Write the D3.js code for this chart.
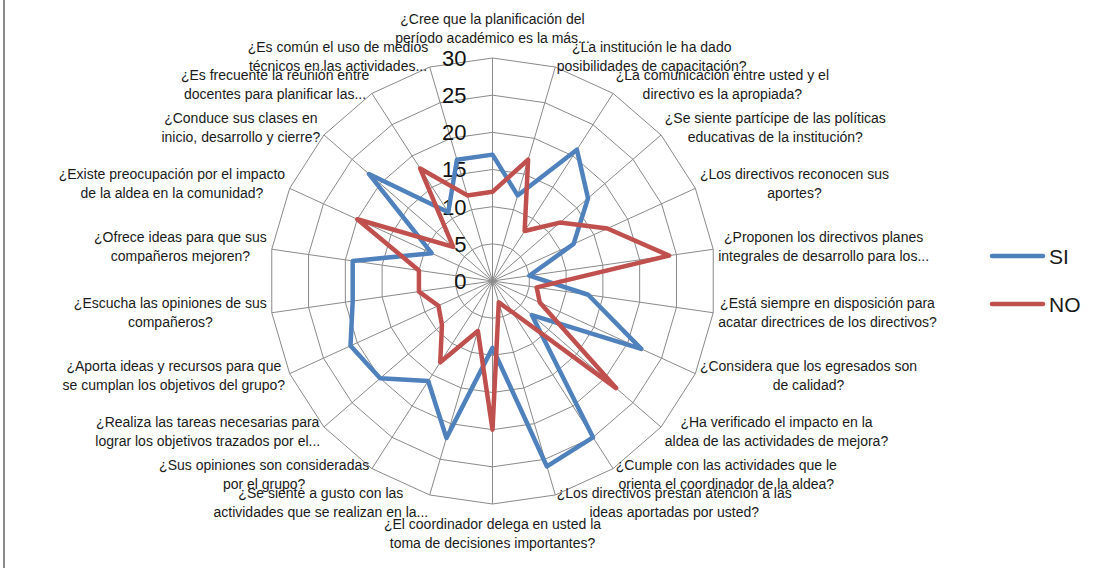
<!DOCTYPE html>
<html>
<head>
<meta charset="utf-8">
<script src="https://cdn.jsdelivr.net/npm/d3@7"></script>
<style>
  html, body { margin: 0; padding: 0; background: #ffffff; }
  svg { display: block; }
  text { font-family: "Liberation Sans", Arial, sans-serif; }
</style>
</head>
<body>
<svg id="chart" width="1108" height="568"></svg>
<script>
// ---------- DATA ----------
const categories = [
  "¿Cree que la planificación del|período académico es la más...",
  "¿La institución le ha dado|posibilidades de capacitación?",
  "¿La comunicación entre usted y el|directivo es la apropiada?",
  "¿Se siente partícipe de las políticas|educativas de la institución?",
  "¿Los directivos reconocen sus|aportes?",
  "¿Proponen los directivos planes|integrales de desarrollo para los...",
  "¿Está siempre en disposición para|acatar directrices de los directivos?",
  "¿Considera que los egresados son|de calidad?",
  "¿Ha verificado el impacto en la|aldea de las actividades de mejora?",
  "¿Cumple con las actividades que le|orienta el coordinador de la aldea?",
  "¿Los directivos prestan atención a las|ideas aportadas por usted?",
  "¿El coordinador delega en usted la|toma de decisiones importantes?",
  "¿Se siente a gusto con las|actividades que se realizan en la...",
  "¿Sus opiniones son consideradas|por el grupo?",
  "¿Realiza las tareas necesarias para|lograr los objetivos trazados por el...",
  "¿Aporta ideas y recursos para que|se cumplan los objetivos del grupo?",
  "¿Escucha las opiniones de sus|compañeros?",
  "¿Ofrece ideas para que sus|compañeros mejoren?",
  "¿Existe preocupación por el impacto|de la aldea en la comunidad?",
  "¿Conduce sus clases en|inicio, desarrollo y cierre?",
  "¿Es frecuente la reunión entre|docentes para planificar las...",
  "¿Es común el uso de medios|técnicos en las actividades..."
];
const siValues = [17, 12, 21, 17, 12, 5, 13, 22, 7, 25, 26, 9, 22, 16, 20, 21, 19, 19, 9, 22, 11, 17];
const noValues = [12, 17, 8, 12, 17, 24, 6, 7, 22, 5, 3, 20, 7, 13, 9, 8, 10, 10, 20, 7, 18, 12];
const seriesNames = ["SI", "NO"];
const tickValues = [0, 5, 10, 15, 20, 25, 30];

// ---------- LAYOUT ----------
const svg = d3.select("#chart");
const cx = 492.5, cy = 281, R = 223;
const colors = ["#4F81BD", "#C0504D"];
const n = categories.length;
const r = d3.scaleLinear().domain([0, 30]).range([0, R]);
const ang = d3.scaleLinear().domain([0, n]).range([0, 2 * Math.PI]);

// left border
svg.append("line").attr("x1", 4).attr("x2", 4).attr("y1", 0).attr("y2", 568)
  .attr("stroke", "#8c8c8c").attr("stroke-width", 2);

const g = svg.append("g").attr("transform", `translate(${cx},${cy})`);

// grid rings
const ringLine = d3.lineRadial()
  .angle((d, i) => ang(i))
  .radius(d => r(d))
  .curve(d3.curveLinearClosed);

tickValues.filter(t => t > 0).forEach(t => {
  g.append("path")
    .attr("d", ringLine(d3.range(n).map(() => t)))
    .attr("fill", "none").attr("stroke", "#8a8a8a").attr("stroke-width", 1);
});

// spokes
d3.range(n).forEach(i => {
  const a = ang(i);
  g.append("line")
    .attr("x1", 0).attr("y1", 0)
    .attr("x2", r(30) * Math.sin(a)).attr("y2", -r(30) * Math.cos(a))
    .attr("stroke", "#8a8a8a").attr("stroke-width", 1);
});

// tick labels
g.selectAll("text.tick").data(tickValues).enter().append("text")
  .attr("class", "tick")
  .attr("x", -26).attr("y", d => -r(d))
  .attr("dy", "0.36em")
  .attr("text-anchor", "end")
  .attr("font-size", 22).attr("fill", "#111")
  .text(d => d);

// series
[siValues, noValues].forEach((vals, s) => {
  g.append("path")
    .attr("d", ringLine(vals))
    .attr("fill", "none")
    .attr("stroke", colors[s])
    .attr("stroke-width", 4.5)
    .attr("stroke-linejoin", "round");
});

// category labels
const fs = 14, lh = 19;
categories.forEach((c, i) => {
  const lines = c.split("|");
  const a = ang(i);
  const s = Math.sin(a), co = Math.cos(a);
  const ex = r(30) * s, ey = -r(30) * co;
  const grp = g.append("g");
  const texts = lines.map(l => grp.append("text").attr("font-size", fs).attr("fill", "#1a1a1a").attr("text-anchor", "middle").text(l));
  const w = d3.max(texts, t => t.node().getComputedTextLength());
  const bh = lines.length * lh;
  let bx, bcy;
  if (Math.abs(s) < 0.01) {
    bx = ex;
    bcy = co > 0 ? ey - 30 : ey + 29;
  } else {
    const ax = (r(30) + 5) * s;
    bx = s > 0 ? ax + w / 2 : ax - w / 2;
    bcy = ey - 9 * co - 1.5;
  }
  texts.forEach((t, k) => {
    t.attr("x", bx).attr("y", bcy - bh / 2 + lh * k + lh / 2 + 5);
  });
});

// legend
const legend = svg.append("g");
seriesNames.forEach((name, s) => {
  const y = 256 + s * 48;
  legend.append("line").attr("x1", 992).attr("x2", 1043).attr("y1", y).attr("y2", y)
    .attr("stroke", colors[s]).attr("stroke-width", 4.5).attr("stroke-linecap", "round");
  legend.append("text").attr("x", 1049).attr("y", y + 8)
    .attr("font-size", 21).attr("fill", "#1a1a1a").text(name);
});
</script>
</body>
</html>
